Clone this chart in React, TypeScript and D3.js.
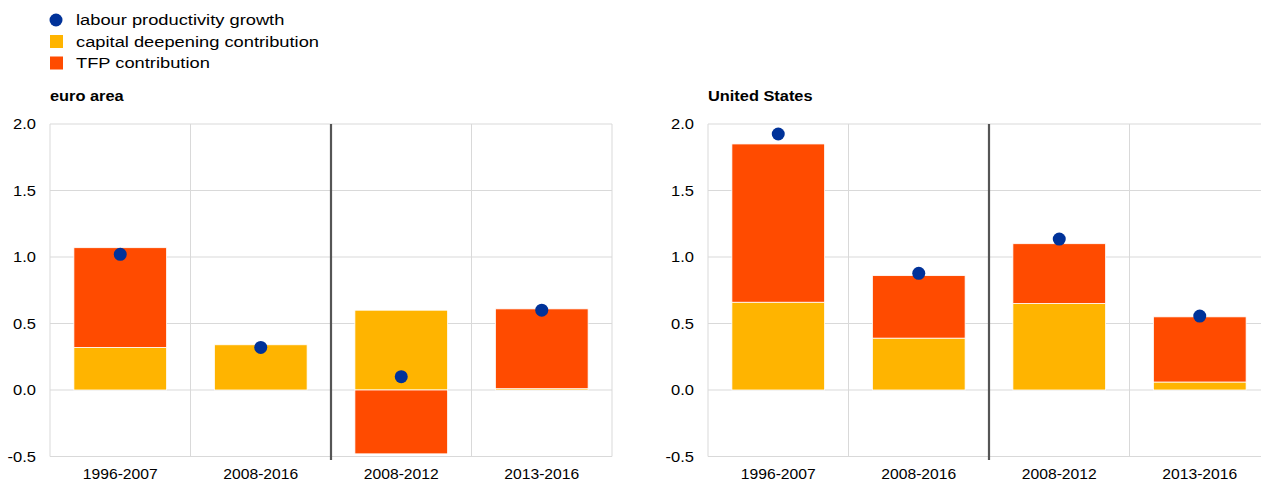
import React from "react";
import * as d3 from "d3";

const periods = ["1996-2007", "2008-2016", "2008-2012", "2013-2016"];
const yTicks = [-0.5, 0.0, 0.5, 1.0, 1.5, 2.0];

const euroCapital = [0.32, 0.34, 0.6, 0.01];
const euroTfp = [0.75, 0.0, -0.48, 0.6];
const euroLabour = [1.02, 0.32, 0.1, 0.6];

const usCapital = [0.66, 0.39, 0.65, 0.06];
const usTfp = [1.19, 0.47, 0.45, 0.49];
const usLabour = [1.925, 0.877, 1.135, 0.556];

const BLUE = "#003299";
const YELLOW = "#FFB400";
const ORANGE = "#FF4B00";
const GRID = "#d9d9d9";
const FONT = "Arial, 'Liberation Sans', sans-serif";

// plain hyphen for negatives, like the source
const fmt = (v) => d3.format(".1f")(v).replace("\u2212", "-");

// text slightly stretched horizontally, as in the source image
function Label({ x, y, size, sx, anchor = "start", bold = false, children }) {
  return (
    <text
      transform={`translate(${x},${y}) scale(${sx},1)`}
      textAnchor={anchor}
      fontFamily={FONT}
      fontSize={size}
      fontWeight={bold ? "bold" : "normal"}
      fill="#000"
    >
      {children}
    </text>
  );
}

function Panel({ left, title, capital, tfp, labour }) {
  const width = 562;
  const x = d3.scaleBand().domain(periods).range([left, left + width]);
  const y = d3.scaleLinear().domain([-0.5, 2.0]).range([456.5, 124]);
  const bw = x.bandwidth() * 0.66;

  const segs = periods.map((p, i) => {
    const c = capital[i];
    const t = tfp[i];
    const out = [{ key: "c", y0: 0, y1: c, color: YELLOW }];
    if (t >= 0) out.push({ key: "t", y0: c, y1: c + t, color: ORANGE });
    else out.push({ key: "t", y0: 0, y1: t, color: ORANGE });
    return { p, out };
  });

  return (
    <g>
      <Label x={left} y={101} size={14} sx={1.17} bold>{title}</Label>
      {yTicks.map((t) => (
        <g key={t}>
          <line x1={left} x2={left + width} y1={y(t)} y2={y(t)} stroke={GRID} strokeWidth={1} />
          <Label x={left - 14} y={y(t) + 5} size={14} sx={1.18} anchor="end">
            {fmt(t)}
          </Label>
        </g>
      ))}
      {periods.map((p) => (
        <line key={p} x1={x(p)} x2={x(p)} y1={y(2)} y2={y(-0.5)} stroke={GRID} strokeWidth={1} />
      ))}
      <line x1={left + width} x2={left + width} y1={y(2)} y2={y(-0.5)} stroke={GRID} strokeWidth={1} />
      {segs.map(({ p, out }) =>
        out.map((s) =>
          Math.abs(s.y1 - s.y0) < 0.001 ? null : (
            <rect
              key={p + s.key}
              x={x(p) + (x.bandwidth() - bw) / 2}
              width={bw}
              y={y(Math.max(s.y0, s.y1))}
              height={Math.abs(y(s.y0) - y(s.y1))}
              fill={s.color}
              stroke="#ffffff"
              strokeWidth={0.8}
            />
          )
        )
      )}
      <line x1={x(periods[2])} x2={x(periods[2])} y1={y(2)} y2={460} stroke="#555" strokeWidth={2.2} />
      {periods.map((p, i) => (
        <circle key={p} cx={x(p) + x.bandwidth() / 2} cy={y(labour[i])} r={6.5} fill={BLUE} />
      ))}
      {periods.map((p) => (
        <Label key={p} x={x(p) + x.bandwidth() / 2} y={479} size={14.5} sx={1.08} anchor="middle">
          {p}
        </Label>
      ))}
    </g>
  );
}

const legendItems = [
  { label: "labour productivity growth", color: BLUE, shape: "circle" },
  { label: "capital deepening contribution", color: YELLOW, shape: "rect" },
  { label: "TFP contribution", color: ORANGE, shape: "rect" },
];

export default function App() {
  return (
    <svg width={1261} height={481} style={{ position: "absolute", left: 0, top: 0, background: "#fff" }}>
      {legendItems.map((d, i) => {
        const cy = 20 + i * 21.5;
        return (
          <g key={d.label}>
            {d.shape === "circle" ? (
              <circle cx={56} cy={cy} r={6.5} fill={d.color} />
            ) : (
              <rect x={50} y={cy - 6.5} width={13} height={13} fill={d.color} />
            )}
            <Label x={76} y={cy + 5} size={15} sx={1.22}>{d.label}</Label>
          </g>
        );
      })}
      <Panel left={50} title="euro area" capital={euroCapital} tfp={euroTfp} labour={euroLabour} />
      <Panel left={708} title="United States" capital={usCapital} tfp={usTfp} labour={usLabour} />
    </svg>
  );
}
